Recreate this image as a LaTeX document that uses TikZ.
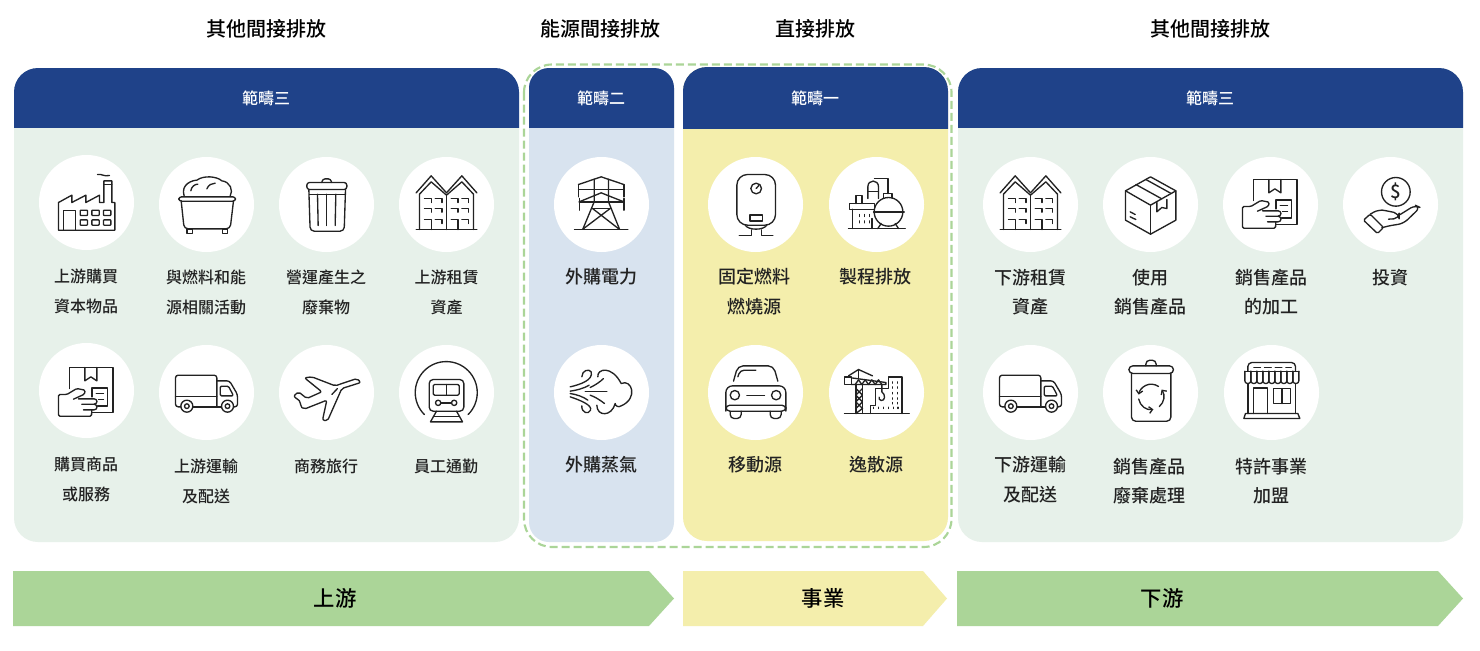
\documentclass[tikz,border=0pt]{standalone}
\usepackage{fontspec}
\usetikzlibrary{arrows.meta}
\setmainfont{Noto Sans CJK TC Medium}
\definecolor{navy}{HTML}{1F4289}
\definecolor{sagebg}{HTML}{E7F1EA}
\definecolor{bluebg}{HTML}{D8E3EF}
\definecolor{yelbg}{HTML}{F4EEAC}
\definecolor{leaf}{HTML}{ABD598}
\definecolor{ink}{HTML}{222222}
\tikzset{
  disc/.style={circle,fill=white,minimum size=71.25pt,inner sep=0pt},
  toptitle/.style={font=\fontsize{15}{15}\selectfont,text=black,inner sep=0pt},
  headtext/.style={font=\fontsize{12}{12}\selectfont,text=white,inner sep=0pt},
  labS/.style={font=\fontsize{12}{22.2}\selectfont,text=ink,align=center,inner sep=0pt,anchor=north},
  labL/.style={font=\fontsize{13.5}{22.2}\selectfont,text=ink,align=center,inner sep=0pt,anchor=north},
  arrowtext/.style={font=\fontsize{16}{16}\selectfont,text=black,inner sep=0pt},
  iconset/.style={x=.25pt,y=-.25pt,line width=1pt,color=ink,line join=round,line cap=round},
}
\newcommand\panel[7]{% x1 y1 x2 y2 headerbottom body radius
  \fill[#6,rounded corners=#7pt] (#1,#2) rectangle (#3,#4);
  \begin{scope}\clip (#1,#2) rectangle (#3,#5);
    \fill[navy,rounded corners=#7pt] (#1,#2) rectangle (#3,#4);
  \end{scope}}
\newcommand\place[3]{\begin{scope}[shift={(#1,#2)},iconset]#3\end{scope}}
\newcommand\icfactory{\begin{scope}[shift={(-199,-157)}]
  \draw (115,240)--(115,157)--(155,135)--(155,157)--(197,135)--(197,157)--(238,135)--(238,157)--(251,157)--(251,92)--(275,92)--(275,157)--(284,157)--(284,240)--cycle;
  \draw (251,102)--(275,102);
  \draw (232,73)..controls (245,70) and (250,80)..(268,76);
  \draw (130,240)--(130,180)--(165,180)--(165,240);
  \foreach \a in {180,215,250}{\foreach \b in {180,209}{\draw[rounded corners=.5pt] (\a,\b) rectangle ++(22,16);}}
\end{scope}}
\newcommand\icbin{\begin{scope}[shift={(-559,-163)}]
  \draw[rounded corners=3pt] (483,152)--(492,236)--(630,236)--(640,152);
  \draw[rounded corners=2pt] (476,140) rectangle (646,153);
  \draw (500,236) rectangle (516,250);
  \draw (606,236) rectangle (622,250);
  \draw (492,138)..controls (480,100) and (520,90)..(530,90)..controls (550,75) and (590,78)..(605,92)..controls (630,95) and (640,120)..(630,138);
  \draw (512,122)..controls (514,108) and (525,102)..(533,102);
  \draw (560,116)..controls (565,104) and (575,99)..(585,99);
\end{scope}}
\newcommand\ictrash{\begin{scope}[shift={(-919,-163)}]
  \draw[rounded corners=2pt] (860,97) rectangle (980,118);
  \draw[rounded corners=2pt] (905,97)--(907,86)--(932,86)--(934,97);
  \draw[rounded corners=3pt] (866,118)--(870,243)--(972,243)--(976,118);
  \draw (868,132)--(974,132);
  \draw (892,132)--(894,226);
  \draw (919,132)--(919,226);
  \draw (947,132)--(945,226);
\end{scope}}
\newcommand\icbuilding{\begin{scope}[shift={(-1279,-163)}]
  \draw (1188,238)--(1370,238);
  \draw (1188,128)--(1233,77)--(1279,128)--(1325,77)--(1370,128);
  \draw (1198,238)--(1198,132)--(1233,95)--(1279,135)--(1325,95)--(1360,132)--(1360,238);
  \draw (1279,135)--(1279,238);
  \foreach \a in {1213,1245,1293,1325}{
    \draw (\a,145)--(\a+20,145)--(\a+20,157);
    \draw (\a,174)--(\a+20,174)--(\a+20,186);
    \draw (\a,207)--(\a+20,207)--(\a+20,220);
  }
  \draw (1233,220)--(1233,238);
  \draw (1313,220)--(1313,238);
\end{scope}}
\newcommand\ichandbox{\begin{scope}[shift={(-199,-166)}]
  \draw (147,160)--(147,97)--(278,97)--(278,231)--(215,231);
  \draw (194,97)--(194,137)--(212,125)--(230,137)--(230,97);
  \draw (215,185)--(215,158)--(262,158)--(262,212)--(232,212);
  \draw (228,175)--(250,175);
  \draw (235,192)--(250,192);
  \draw[rounded corners=1pt] (215,224)--(214,243)--(115,243)--(115,178)--(140,178)--(170,160)--(195,165)--(193,177)--(160,192);
  \draw (175,191)--(222,191)..controls (233,191) and (233,207)..(222,207)--(185,207);
  \draw (222,207)..controls (233,208) and (233,224)..(222,224)--(190,224);
\end{scope}}
\newcommand\ictruck{\begin{scope}[shift={(-559,-172)}]
  \draw[rounded corners=2pt] (482,215)--(466,215)--(466,120)--(590,120)--(590,215);
  \draw (518,215)--(604,215);
  \draw (466,183)--(590,183);
  \draw[rounded corners=2pt] (590,137)--(628,137)--(652,178)--(652,215)--(640,215);
  \draw[rounded corners=1pt] (600,153)--(625,153)--(640,182)--(600,182)--cycle;
  \draw (500,213) circle[radius=18];
  \draw (500,213) circle[radius=7];
  \draw (622,213) circle[radius=18];
  \draw (622,213) circle[radius=7];
\end{scope}}
\newcommand\icplane{\begin{scope}[shift={(-919,-172)}]
  \draw[rounded corners=1.5pt] (1022,142)--(1010,130)--(945,152)--(875,125)--(853,128)--(905,170)--(860,190)--(835,170)--(820,183)--(842,200)--(840,213)--(852,222)--(920,195)--(907,255)--(922,257)--(965,160)--cycle;
  \draw (952,160)--(935,178);
\end{scope}}
\newcommand\ictrain{\begin{scope}[shift={(-1280,-172)}]
  \draw (1345,238) arc[start angle=45,end angle=-225,radius=93];
  \draw[rounded corners=3pt] (1228,133) rectangle (1332,228);
  \draw[rounded corners=1pt] (1240,148) rectangle (1318,180);
  \draw (1279,148)--(1279,180);
  \draw (1255,203) circle[radius=8];
  \draw (1303,203) circle[radius=8];
  \draw (1263,203)--(1295,203);
  \draw (1250,228)--(1232,260)--(1328,260)--(1310,228);
  \draw (1243,243)--(1317,243);
\end{scope}}
\newcommand\ictower{\begin{scope}[shift={(-259,-448)}]
  \draw (178,522)--(338,522);
  \draw (190,388)--(258,365)--(326,388);
  \draw (190,402)--(326,402);
  \draw (190,388)--(190,425);
  \draw (326,388)--(326,425);
  \draw (192,440)--(258,413)--(326,440);
  \draw (192,440)--(326,440);
  \draw (192,430)--(192,465);
  \draw (326,430)--(326,465);
  \draw (237,372)--(237,440)--(203,522);
  \draw (280,372)--(280,440)--(313,522);
  \draw (232,460)--(285,460);
  \draw (232,460)--(312,522);
  \draw (285,460)--(203,522);
\end{scope}}
\newcommand\icboiler{\begin{scope}[shift={(-721,-448)}]
  \draw[rounded corners=8pt] (665,358) rectangle (781,510);
  \draw (723,400) circle[radius=16];
  \draw (723,400)--(731,391);
  \draw (704,479) rectangle (742,497);
  \draw (690,510)..controls (700,526) and (745,526)..(755,510);
  \draw (708,524)--(708,540)--(672,540);
  \draw (738,524)--(738,540)--(773,540);
\end{scope}}
\newcommand\icrefinery{\begin{scope}[shift={(-1084,-448)}]
  \draw (1000,520)--(1170,520);
  \draw (1120,470) circle[radius=43];
  \draw (1075,470)--(1167,470);
  \draw (1105,428)--(1105,415)--(1130,415)--(1130,428);
  \draw (1088,520)--(1098,505);
  \draw (1150,520)--(1140,505);
  \draw (1058,430)--(1058,395)..controls (1058,372) and (1090,372)..(1090,395)--(1090,430);
  \draw (1058,408)--(1090,408);
  \draw (1078,370)--(1118,370)--(1118,415);
  \draw (1002,462) rectangle (1078,445);
  \draw (1022,445)--(1022,420)--(1040,420)--(1040,445);
  \draw (1012,462)--(1012,520);
  \draw (1070,490)--(1070,520);
  \foreach \a in {1032,1047,1062}{\foreach \b in {478,497}{\draw (\a,\b)--(\a,\b+6);}}
\end{scope}}
\newcommand\icwind{\begin{scope}[shift={(-259,-172)}]
  \draw (248,125)..controls (245,100) and (290,90)..(318,145)..controls (350,130) and (370,190)..(318,212)..controls (310,218) and (300,212)..(300,205)..controls (290,245) and (245,245)..(245,210);
  \draw (165,155)..controls (195,148) and (235,135)..(228,110)..controls (222,100) and (200,105)..(200,125);
  \draw (165,168)..controls (185,165) and (205,160)..(222,150);
  \draw (210,168)--(275,168);
  \draw (225,157)..controls (240,150) and (255,140)..(265,130);
  \draw (165,175)..controls (185,178) and (205,185)..(218,195);
  \draw (225,180)..controls (240,185) and (255,195)..(268,205);
  \draw (165,185)..controls (195,195) and (232,210)..(226,225)..controls (220,240) and (198,232)..(200,212);
\end{scope}}
\newcommand\iccar{\begin{scope}[shift={(-721,-172)}]
  \draw[rounded corners=4pt] (655,138)--(668,92)--(775,92)--(788,138);
  \draw[rounded corners=3pt] (668,125)--(675,105)--(722,105);
  \draw[rounded corners=5pt] (632,228)--(632,152)--(812,152)--(812,228);
  \draw[rounded corners=3pt] (632,210) rectangle (812,228);
  \draw[rounded corners=3pt] (645,228)--(645,250)--(678,250)--(678,228);
  \draw[rounded corners=3pt] (765,228)--(765,250)--(798,250)--(798,228);
  \draw (659,180) circle[radius=14];
  \draw (783,180) circle[radius=14];
  \draw (695,180)--(748,180);
\end{scope}}
\newcommand\iccrane{\begin{scope}[shift={(-1084,-172)}]
  \draw (988,235)--(1182,235);
  \draw (1065,235)--(1065,210)--(1080,210)--(1080,160)--(1120,160)--(1120,125)--(1160,125)--(1160,235);
  \draw (1022,150)--(1022,235);
  \draw (1042,150)--(1042,235);
  \draw (1022,160)--(1042,180)--(1022,200)--(1042,220)--(1022,235);
  \draw (1042,160)--(1022,180)--(1042,200)--(1022,220);
  \draw (988,125) rectangle (1008,148);
  \draw (1008,148)--(1112,148)--(1112,142)--(1008,128);
  \foreach \a in {1020,1040,1060,1080}{\draw (\a,148)--(\a+10,134)--(\a+20,148);}
  \draw (1000,122)--(1030,103)--(1072,122);
  \draw (1030,103)--(1030,128);
  \draw (1100,148)--(1100,170)..controls (1112,178) and (1110,198)..(1098,196)..controls (1092,195) and (1091,190)..(1092,186);
  \foreach \a in {1132,1146}{\foreach \b in {140,155,172,188,202}{\draw (\a,\b)--(\a,\b+4);}}
  \foreach \a in {1075,1090,1105,1120,1134,1148}{\draw (\a,216)--(\a,220);}
\end{scope}}
\newcommand\iccarton{\begin{scope}[shift={(-541,-163)}]
  \draw (541,80)--(617,122)--(617,210)--(541,252)--(466,210)--(466,122)--cycle;
  \draw (466,122)--(541,165)--(617,122);
  \draw (541,165)--(541,252);
  \draw (497,103)--(573,145);
  \draw (527,88)--(603,130);
  \draw (560,157)--(560,185)--(575,172)--(590,175)--(590,148);
  \draw (480,185)--(495,193);
  \draw (480,200)--(497,208);
\end{scope}}
\newcommand\icdollar{\begin{scope}[shift={(-1261,-163)}]
  \draw (1277,125) circle[radius=43];
  \node[font=\fontsize{14}{14}\selectfont,text=ink,inner sep=0pt] (dollarsign) at (1277,125) {\$};
  \draw[rounded corners=1pt] (1180,210)--(1200,192)--(1240,232)--(1222,250)--cycle;
  \draw[rounded corners=4pt] (1200,192)--(1225,178)--(1250,182)--(1287,190)--(1287,205)--(1255,207);
  \draw[rounded corners=4pt] (1290,193)--(1335,165)--(1350,172)--(1300,220)--(1250,228)--(1238,232);
\end{scope}}
\newcommand\icrecycle{\begin{scope}[shift={(-541,-172)}]
  \draw[rounded corners=3pt] (476,92) rectangle (610,115);
  \draw[rounded corners=3pt] (527,92)--(527,75)--(558,75)--(558,92);
  \draw[rounded corners=3pt] (484,115)--(484,258)--(602,258)--(602,115);
  \draw[-{Straight Barb[length=2.5pt,width=5pt]}] (543,185)+(50:38) arc[start angle=50,end angle=-35,radius=38];
  \draw[-{Straight Barb[length=2.5pt,width=5pt]}] (543,185)+(-55:38) arc[start angle=-55,end angle=-170,radius=38];
  \draw[-{Straight Barb[length=2.5pt,width=5pt]}] (543,185)+(170:38) arc[start angle=170,end angle=80,radius=38];
\end{scope}}
\newcommand\icstore{\begin{scope}[shift={(-903,-172)}]
  \draw[rounded corners=3pt] (832,108)--(832,82)--(975,82)--(975,108);
  \draw (850,97)--(870,97);
  \draw (882,97)--(902,97);
  \draw (914,97)--(934,97);
  \draw (946,97)--(962,97);
  \draw (823,108)--(985,108);
  \foreach \a in {823,841,859,877,895,913,931,949,967}{
    \draw[rounded corners=2pt] (\a,108)--(\a,145)--(\a+18,145)--(\a+18,108);}
  \draw (832,145)--(832,235);
  \draw (975,145)--(975,235);
  \draw (848,235)--(848,158)--(890,158)--(890,235);
  \draw (908,160) rectangle (960,205);
  \draw (934,160)--(934,205);
  \draw (825,235)--(982,235)--(988,250)--(820,250)--cycle;
\end{scope}}
\begin{document}
\begin{tikzpicture}[x=.75pt,y=-.75pt]
\useasboundingbox (0,0) rectangle (1480,650);
\fill[white] (0,0) rectangle (1480,650);
% panels
\panel{14}{68}{519}{542}{127.4}{sagebg}{18}
\panel{529}{68}{674}{542}{127.4}{bluebg}{15}
\panel{683}{67}{948}{541}{128.4}{yelbg}{18}
\panel{958}{68}{1463}{542}{127.4}{sagebg}{18}
\draw[leaf,line width=1.6pt,rounded corners=21pt,dash pattern=on 6pt off 3pt] (524,64.5) rectangle (951.5,547);
% bottom arrows
\fill[leaf] (13,571)--(649,571)--(674,598.5)--(649,626)--(13,626)--cycle;
\fill[yelbg] (683,571)--(923,571)--(947,598.5)--(923,626)--(683,626)--cycle;
\fill[leaf] (957,571)--(1438,571)--(1463,598.5)--(1438,626)--(957,626)--cycle;
\node[arrowtext] (upstream) at (335,598.5) {上游};
\node[arrowtext] (operations) at (823,598.5) {事業};
\node[arrowtext] (downstream) at (1162,598.5) {下游};
% titles
\node[toptitle] (titleA) at (266,29) {其他間接排放};
\node[toptitle] (titleB) at (600.5,29) {能源間接排放};
\node[toptitle] (titleC) at (815,29) {直接排放};
\node[toptitle] (titleD) at (1210,29) {其他間接排放};
\node[headtext] (headA) at (266,98) {範疇三};
\node[headtext] (headB) at (601,98) {範疇二};
\node[headtext] (headC) at (815,98) {範疇一};
\node[headtext] (headD) at (1210,98) {範疇三};
% discs
\node[disc] (d1) at (86.5,202.5) {};
\node[disc] (d2) at (206.5,204.5) {};
\node[disc] (d3) at (326.5,204.5) {};
\node[disc] (d4) at (446.5,204.5) {};
\node[disc] (d5) at (86.5,390.5) {};
\node[disc] (d6) at (206.5,392.5) {};
\node[disc] (d7) at (326.5,392.5) {};
\node[disc] (d8) at (446.5,392.5) {};
\node[disc] (d9) at (601.5,204.5) {};
\node[disc] (d10) at (601.5,392.5) {};
\node[disc] (d11) at (755.5,204.5) {};
\node[disc] (d12) at (876.5,204.5) {};
\node[disc] (d13) at (755.5,392.5) {};
\node[disc] (d14) at (876.5,392.5) {};
\node[disc] (d15) at (1030.5,204.5) {};
\node[disc] (d16) at (1150.5,204.5) {};
\node[disc] (d17) at (1270.5,204.5) {};
\node[disc] (d18) at (1390.5,204.5) {};
\node[disc] (d19) at (1030.5,392.5) {};
\node[disc] (d20) at (1150.5,392.5) {};
\node[disc] (d21) at (1271.5,392.5) {};
% icons
\place{86.5}{202.5}{\icfactory}
\place{206.5}{204.5}{\icbin}
\place{326.5}{204.5}{\ictrash}
\place{446.5}{204.5}{\icbuilding}
\place{86.5}{390.5}{\ichandbox}
\place{206.5}{392.5}{\ictruck}
\place{326.5}{392.5}{\icplane}
\place{446.5}{392.5}{\ictrain}
\place{601.5}{204.5}{\ictower}
\place{601.5}{392.5}{\icwind}
\place{755.5}{204.5}{\icboiler}
\place{876.5}{204.5}{\icrefinery}
\place{755.5}{392.5}{\iccar}
\place{876.5}{392.5}{\iccrane}
\place{1030.5}{204.5}{\icbuilding}
\place{1150.5}{204.5}{\iccarton}
\place{1270.5}{202.5}{\ichandbox}
\place{1390.5}{204.5}{\icdollar}
\place{1030.5}{392.5}{\ictruck}
\place{1150.5}{392.5}{\icrecycle}
\place{1271.5}{392.5}{\icstore}
% labels
\node[labS] (l1) at (86,269) {上游購買\\資本物品};
\node[labS] (l2) at (206,270) {與燃料和能\\源相關活動};
\node[labS] (l3) at (326,270) {營運產生之\\廢棄物};
\node[labS] (l4) at (446.5,270) {上游租賃\\資產};
\node[labS] (l5) at (86,457) {購買商品\\或服務};
\node[labS] (l6) at (206,459) {上游運輸\\及配送};
\node[labS] (l7) at (326,459) {商務旅行};
\node[labS] (l8) at (446,459) {員工通勤};
\node[labL] (l9) at (601,268) {外購電力};
\node[labL] (l10) at (601,456) {外購蒸氣};
\node[labL] (l11) at (754.5,268) {固定燃料\\燃燒源};
\node[labL] (l12) at (875.7,268) {製程排放};
\node[labL] (l13) at (755,456) {移動源};
\node[labL] (l14) at (876.5,456) {逸散源};
\node[labL] (l15) at (1030.5,268.5) {下游租賃\\資產};
\node[labL] (l16) at (1150.5,268.5) {使用\\銷售產品};
\node[labL] (l17) at (1271,268.5) {銷售產品\\的加工};
\node[labL] (l18) at (1390.5,268.5) {投資};
\node[labL] (l19) at (1030.5,456) {下游運輸\\及配送};
\node[labL] (l20) at (1149.5,457.5) {銷售產品\\廢棄處理};
\node[labL] (l21) at (1271.5,457.5) {特許事業\\加盟};
\end{tikzpicture}
\end{document}
